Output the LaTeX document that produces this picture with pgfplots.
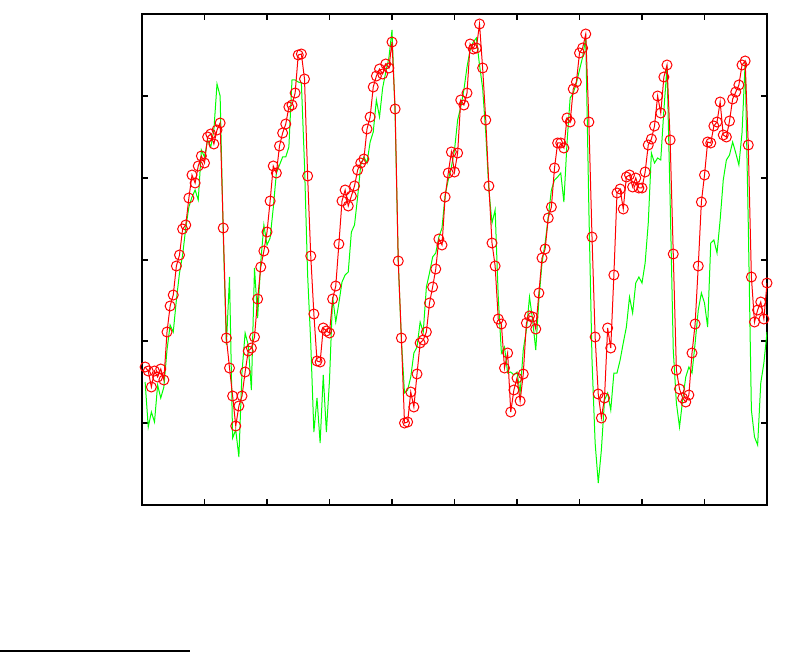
\documentclass[border=0pt]{standalone}
\usepackage{pgfplots}
\usepackage{pgfplotstable}
\pgfplotsset{compat=1.18}

% k = sample index, y values in screen rows of the plot (top = 14, bottom = 505)
\pgfplotstableread{
k red green
1 367 382
2 371 427
3 387 412
4 371 422
5 377 385
6 369 398
7 380 387
8 332 350
9 306 325
10 295 332
11 266 300
12 255 273
13 229 255
14 225 228
15 198 207
16 175 197
17 183 190
18 166 200
19 156 150
20 163 157
21 137 140
22 134 147
23 144 130
24 130 84
25 123 96
26 228 235
27 338 345
28 368 277
29 396 438
30 426 430
31 406 457
32 396 372
33 372 333
34 351 345
35 348 390
36 337 268
37 299 318
38 267 262
39 251 225
40 232 245
41 201 238
42 166 208
43 173 173
44 146 165
45 133 157
46 124 157
47 107 147
48 105 80
49 93 80
50 55 82
51 54 83
52 79 165
53 176 275
54 256 343
55 314 432
56 361 398
57 362 443
58 328 375
59 331 432
60 333 380
61 299 297
62 286 322
63 244 303
64 201 282
65 190 275
66 206 272
67 196 232
68 186 225
69 170 197
70 163 165
71 159 157
72 129 163
73 117 142
74 87 132
75 76 100
76 69 117
77 74 88
78 64 72
79 68 58
80 42 30
81 109 115
82 261 262
83 338 340
84 423 393
85 422 390
86 392 377
87 407 353
88 374 347
89 343 322
90 340 332
91 332 287
92 303 273
93 287 257
94 269 253
95 239 237
96 245 228
97 197 195
98 173 180
99 152 167
100 172 150
101 153 120
102 100 107
103 105 90
104 93 67
105 44 50
106 49 42
107 48 38
108 24 65
109 68 88
110 120 133
111 186 190
112 243 223
113 266 210
114 319 297
115 324 353
116 368 347
117 353 373
118 412 372
119 390 375
120 378 372
121 401 393
122 374 350
123 323 330
124 316 297
125 317 320
126 329 350
127 293 300
128 258 263
129 249 243
130 218 217
131 207 190
132 168 180
133 143 177
134 143 173
135 148 202
136 118 143
137 122 98
138 89 93
139 82 83
140 53 70
141 48 57
142 34 38
143 122 210
144 237 360
145 337 443
146 394 483
147 418 450
148 398 400
149 328 393
150 348 410
151 275 373
152 193 373
153 189 360
154 209 343
155 177 327
156 175 297
157 187 313
158 178 283
159 188 277
160 188 283
161 172 263
162 145 223
163 139 153
164 126 163
165 96 158
166 113 160
167 77 110
168 65 67
169 140 200
170 254 350
171 370 403
172 389 427
173 398 400
174 402 377
175 395 367
176 353 373
177 324 343
178 266 310
179 202 293
180 175 303
181 142 327
182 143 243
183 126 240
184 122 253
185 102 220
186 135 180
187 137 160
188 121 155
189 99 142
190 92 153
191 85 165
192 65 133
193 61 63
194 145 223
195 277 410
196 322 437
197 310 445
198 302 383
199 319 363
200 283 332
}\datatable

\begin{document}
\begin{tikzpicture}
\useasboundingbox (0,0) rectangle (392.5pt,326pt);
\begin{axis}[
    at={(71pt,73.5pt)},
    anchor=south west,
    scale only axis,
    width=312.5pt,
    height=245.5pt,
    xmin=0, xmax=200,
    ymin=14, ymax=505,
    y dir=reverse,
    xtick={20,40,...,180},
    ytick={96,178,260,341,423},
    xticklabels={},
    yticklabels={},
    tick align=inside,
    major tick length=3pt,
    axis line style={line width=0.6pt},
    every tick/.style={black, line width=0.6pt},
    clip=true,
]
\addplot[color={rgb,1:red,0;green,1;blue,0}, line width=0.5pt, no marks] table[x=k, y=green] {\datatable};
\addplot[color={rgb,1:red,1;green,0;blue,0}, line width=0.5pt, mark=o, mark size=2.5pt,
    mark options={line width=0.5pt}] table[x=k, y=red] {\datatable};
\end{axis}
\draw[line width=0.7pt] (0,0.5pt) -- (95pt,0.5pt);
\end{tikzpicture}
\end{document}
